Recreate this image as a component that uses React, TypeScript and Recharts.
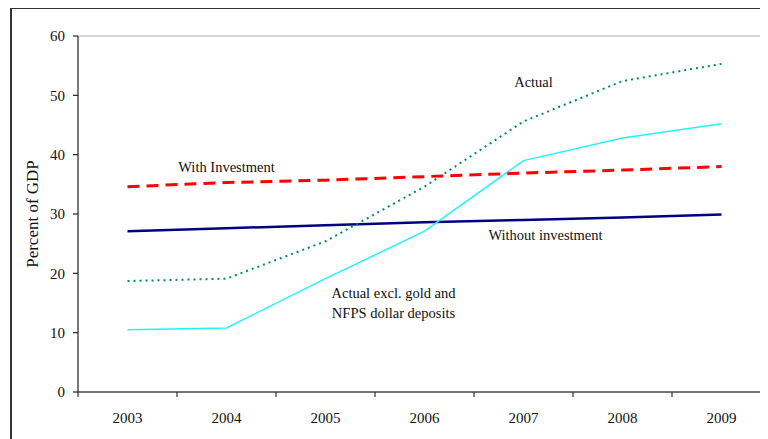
import { LineChart, Line, XAxis, YAxis, ReferenceLine, ReferenceDot } from 'recharts';

const years = ['2003', '2004', '2005', '2006', '2007', '2008', '2009'];
const actual = [18.7, 19.1, 25.4, 34.6, 45.6, 52.4, 55.3];
const actualExcl = [10.5, 10.8, 19.1, 27.1, 39.0, 42.8, 45.2];
const withInvestment = [34.6, 35.3, 35.7, 36.3, 36.9, 37.4, 38.0];
const withoutInvestment = [27.1, 27.6, 28.1, 28.6, 29.0, 29.4, 29.9];
const yTicks = [0, 10, 20, 30, 40, 50, 60];

const data = years.map((year, i) => ({
  year,
  actual: actual[i],
  actualExcl: actualExcl[i],
  withInvestment: withInvestment[i],
  withoutInvestment: withoutInvestment[i],
}));

const FONT = '"Liberation Serif", "Times New Roman", serif';
const CHART_W = 800;
const CHART_H = 439;
const MARGIN = { top: 36, right: 29, bottom: 17, left: 18 };
const Y_W = 60;
const BAND = (CHART_W - MARGIN.left - MARGIN.right - Y_W) / years.length;

function YearTick({ x, y, payload, index }: any) {
  return (
    <g>
      <line x1={x - BAND / 2} x2={x - BAND / 2} y1={y} y2={y + 5} stroke="#333" strokeWidth={1.2} />
      {index === years.length - 1 && (
        <line x1={x + BAND / 2} x2={x + BAND / 2} y1={y} y2={y + 5} stroke="#333" strokeWidth={1.2} />
      )}
      <text x={x} y={y + 31} textAnchor="middle" fontSize={15} fontFamily={FONT} fill="#111">
        {payload.value}
      </text>
    </g>
  );
}

function note(lines: string[], dx = 0) {
  return (p: any) => (
    <text
      x={p.cx + dx}
      y={p.cy - ((lines.length - 1) * 20) / 2}
      textAnchor="middle"
      dominantBaseline="central"
      fontSize={14.5}
      fontFamily={FONT}
      fill="#111"
    >
      {lines.map((l, i) => (
        <tspan key={i} x={p.cx + dx} dy={i === 0 ? 0 : 20}>
          {l}
        </tspan>
      ))}
    </text>
  );
}

export default function App() {
  return (
    <div
      style={{
        position: 'relative',
        margin: '-8px 0 0 -8px',
        width: 768,
        height: 439,
        overflow: 'hidden',
        background: '#fff',
      }}
    >
      <div
        style={{
          position: 'absolute',
          left: 10,
          top: 7,
          width: 900,
          height: 600,
          borderLeft: '2px solid #333',
          borderTop: '2px solid #333',
        }}
      />
      <div style={{ position: 'absolute', left: 0, top: 0 }}>
        <LineChart width={CHART_W} height={CHART_H} data={data} margin={MARGIN}>
          <ReferenceLine y={60} stroke="#b4b4b4" strokeWidth={1.2} />
          <XAxis
            dataKey="year"
            padding={{ left: BAND / 2, right: BAND / 2 }}
            axisLine={{ stroke: '#444', strokeWidth: 1.5 }}
            tickLine={false}
            tickSize={0}
            tickMargin={0}
            height={30}
            interval={0}
            tick={<YearTick />}
          />
          <YAxis
            width={Y_W}
            domain={[0, 60]}
            ticks={yTicks}
            tickSize={5}
            tickMargin={8}
            axisLine={{ stroke: '#222', strokeWidth: 1.2 }}
            tickLine={{ stroke: '#222', strokeWidth: 1.2 }}
            tick={{ fontSize: 15, fontFamily: FONT, fill: '#111' }}
            label={{
              content: ({ viewBox }: any) => (
                <text
                  x={32}
                  y={viewBox.y + viewBox.height / 2}
                  transform={`rotate(-90 32 ${viewBox.y + viewBox.height / 2})`}
                  textAnchor="middle"
                  dominantBaseline="central"
                  fontSize={17}
                  fontFamily={FONT}
                  fill="#111"
                >
                  Percent of GDP
                </text>
              ),
            }}
          />
          <Line
            dataKey="withoutInvestment"
            stroke="#000080"
            strokeWidth={2.5}
            dot={false}
            isAnimationActive={false}
          />
          <Line
            dataKey="actualExcl"
            stroke="#22f4f4"
            strokeWidth={1.5}
            dot={false}
            isAnimationActive={false}
          />
          <Line
            dataKey="actual"
            stroke="#008a64"
            strokeWidth={2}
            strokeDasharray="2 4"
            dot={false}
            isAnimationActive={false}
          />
          <Line
            dataKey="withInvestment"
            stroke="#ff0000"
            strokeWidth={3}
            strokeDasharray="12 7"
            dot={false}
            isAnimationActive={false}
          />
          <ReferenceDot x="2004" y={37.9} r={0} shape={note(['With Investment'])} />
          <ReferenceDot x="2007" y={52.2} r={0} shape={note(['Actual'], 10)} />
          <ReferenceDot x="2007" y={26.5} r={0} shape={note(['Without investment'], 22)} />
          <ReferenceDot
            x="2006"
            y={15.0}
            r={0}
            shape={note(['Actual excl. gold and', 'NFPS dollar deposits'], -31)}
          />
        </LineChart>
      </div>
    </div>
  );
}
